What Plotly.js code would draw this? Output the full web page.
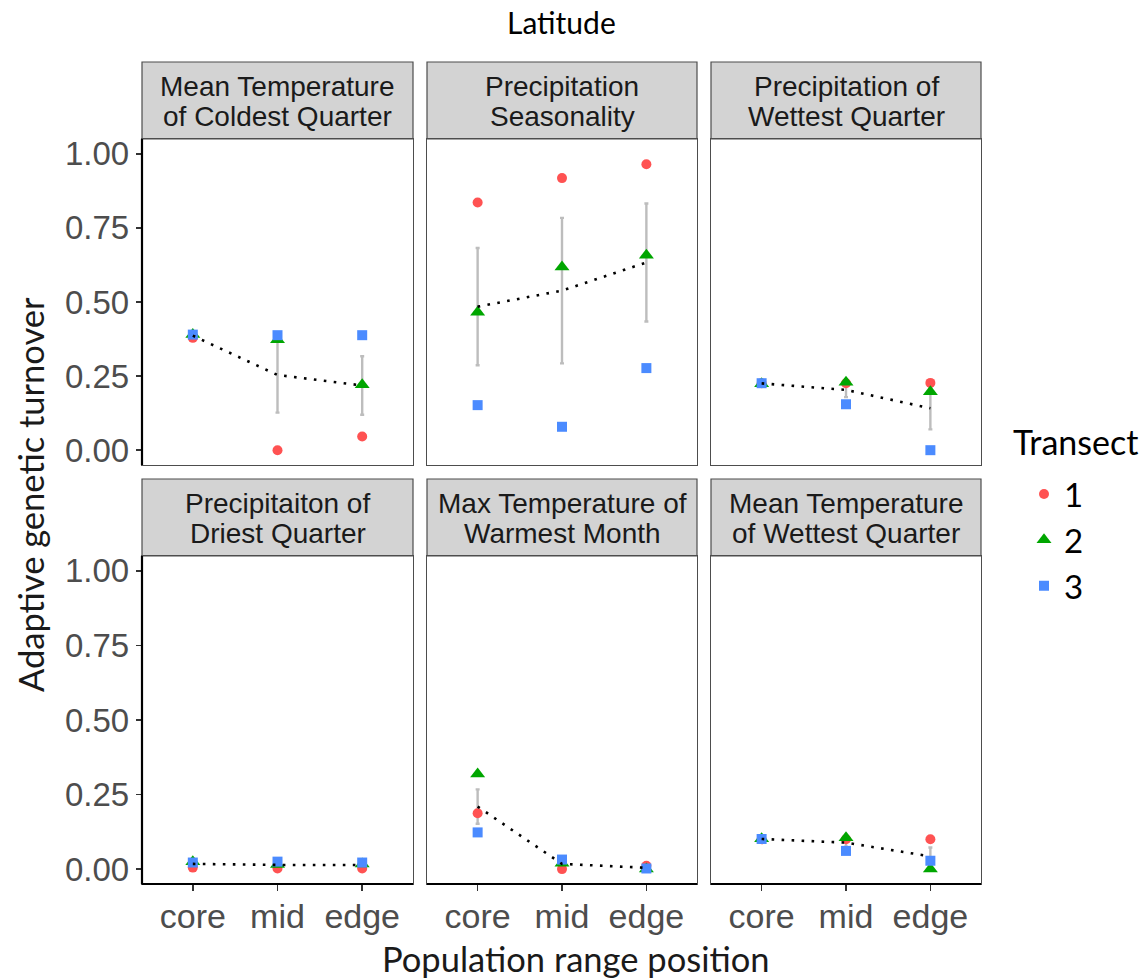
<!DOCTYPE html>
<html>
<head>
<meta charset="utf-8">
<script src="https://cdn.plot.ly/plotly-3.0.1.min.js"></script>
<style>
  html, body { margin: 0; padding: 0; background: #fff; }
  #chart { width: 1147px; height: 979px; }
</style>
</head>
<body>
<div id="chart"></div>
<script>
// Range positions on the x axis of every facet
const positions = ['core', 'mid', 'edge'];

// Facet labels, two lines each, in facet order (row by row)
const facetLines = [
  ['Mean Temperature', 'of Coldest Quarter'],
  ['Precipitation', 'Seasonality'],
  ['Precipitation of', 'Wettest Quarter'],
  ['Precipitaiton of', 'Driest Quarter'],
  ['Max Temperature of', 'Warmest Month'],
  ['Mean Temperature', 'of Wettest Quarter']
];

// Adaptive genetic turnover per transect: one row per facet, values for core / mid / edge
const transect1 = [
  [0.379, 0.000, 0.046],
  [0.836, 0.918, 0.965],
  [0.226, 0.226, 0.227],
  [0.005, 0.002, 0.002],
  [0.187, 0.000, 0.011],
  [0.100, 0.100, 0.100]
];
const transect2 = [
  [0.390, 0.373, 0.221],
  [0.465, 0.618, 0.658],
  [0.224, 0.229, 0.197],
  [0.025, 0.015, 0.017],
  [0.319, 0.020, 0.000],
  [0.102, 0.105, 0.000]
];
const transect3 = [
  [0.390, 0.388, 0.388],
  [0.152, 0.079, 0.277],
  [0.226, 0.155, 0.000],
  [0.022, 0.025, 0.022],
  [0.123, 0.032, 0.002],
  [0.101, 0.061, 0.028]
];

const transectNames = ['1', '2', '3'];
const yTickVals = [0, 0.25, 0.5, 0.75, 1];
const yTickText = ['0.00', '0.25', '0.50', '0.75', '1.00'];

// ---- styling ----
const W = 1147, H = 979;
const colors = ['#FF5252', '#00A600', '#4B8BFF'];
const symbols = ['circle', 'triangle-up', 'square'];
const sizes = [10, 13, 10];
const sansFont = 'Liberation Sans, Arial, sans-serif';
const titleFont = 'Lato, Open Sans, sans-serif';

// panel boxes in pixels: [left, right] per column, [top, bottom] per row
const colPx = [[142, 413], [427, 697], [711, 981]];
const rowPx = [[139, 465], [556, 884]];
const stripPx = [[62, 139], [479, 556]];
const px = x => x / W;
const py = y => 1 - y / H;

function mean(a) { return a.reduce((s, v) => s + v, 0) / a.length; }
function se(a) {
  const m = mean(a);
  const v = a.reduce((s, x) => s + (x - m) * (x - m), 0) / (a.length - 1);
  return Math.sqrt(v) / Math.sqrt(a.length);
}

const data = [];
const layout = {
  width: W, height: H,
  margin: {l: 0, r: 0, t: 0, b: 0},
  paper_bgcolor: '#fff', plot_bgcolor: '#fff',
  hovermode: false,
  showlegend: true,
  legend: {
    x: px(1012), y: py(466), xanchor: 'left', yanchor: 'top',
    font: {family: titleFont, size: 33, color: '#000'},
    bgcolor: 'rgba(0,0,0,0)',
    tracegroupgap: 0,
    indentation: 12,
    itemsizing: 'trace'
  },
  shapes: [],
  annotations: []
};

const series = [transect1, transect2, transect3];

for (let p = 0; p < 6; p++) {
  const row = Math.floor(p / 3), col = p % 3;
  const n = p + 1;
  const xa = 'xaxis' + (n === 1 ? '' : n);
  const ya = 'yaxis' + (n === 1 ? '' : n);
  const xref = 'x' + (n === 1 ? '' : n);
  const yref = 'y' + (n === 1 ? '' : n);

  layout[xa] = {
    domain: [px(colPx[col][0]), px(colPx[col][1])],
    anchor: yref,
    type: 'category',
    categoryorder: 'array', categoryarray: positions,
    range: [-0.6, 2.6],
    showgrid: false, zeroline: false,
    showline: true, mirror: true, linecolor: '#4D4D4D', linewidth: 1.2,
    ticks: row === 1 ? 'outside' : '', ticklen: 6, tickwidth: 1.6, tickcolor: '#333',
    showticklabels: row === 1,
    ticklabelstandoff: -4,
    tickfont: {family: sansFont, size: 34, color: '#4D4D4D'},
    fixedrange: true
  };
  layout[ya] = {
    domain: [py(rowPx[row][1]), py(rowPx[row][0])],
    anchor: xref,
    range: [-0.05, 1.05],
    tickvals: yTickVals, ticktext: yTickText,
    showgrid: false, zeroline: false,
    showline: true, mirror: true, linecolor: '#4D4D4D', linewidth: 1.2,
    ticks: col === 0 ? 'outside' : '', ticklen: 5, tickwidth: 1.6, tickcolor: '#333',
    showticklabels: col === 0,
    tickfont: {family: sansFont, size: 33, color: '#4D4D4D'},
    fixedrange: true
  };

  // summary: mean and standard error across transects
  const means = [], errs = [];
  for (let k = 0; k < 3; k++) {
    const vals = series.map(s => s[p][k]);
    means.push(mean(vals));
    errs.push(se(vals));
  }

  // error bars first (underneath points)
  data.push({
    type: 'scatter', mode: 'markers', x: positions, y: means,
    xaxis: xref, yaxis: yref, showlegend: false,
    marker: {size: 2, color: 'rgba(0,0,0,0)'},
    error_y: {type: 'data', array: errs, visible: true, color: '#BDBDBD', thickness: 2.4, width: 2}
  });

  // individual transect points
  for (let t = 0; t < 3; t++) {
    data.push({
      type: 'scatter', mode: 'markers', x: positions, y: series[t][p],
      xaxis: xref, yaxis: yref,
      name: transectNames[t],
      showlegend: p === 0,
      marker: {symbol: symbols[t], size: sizes[t], color: colors[t], line: {width: 0}}
    });
  }

  // dotted line through the means
  data.push({
    type: 'scatter', mode: 'lines', x: positions, y: means,
    xaxis: xref, yaxis: yref, showlegend: false,
    line: {color: '#000', width: 2.6, dash: '2.6px,7.4px'}
  });

  // facet strip
  layout.shapes.push({
    type: 'rect', xref: 'paper', yref: 'paper',
    x0: px(colPx[col][0]), x1: px(colPx[col][1]),
    y0: py(stripPx[row][1]), y1: py(stripPx[row][0]),
    fillcolor: '#D3D3D3', line: {color: '#4D4D4D', width: 1.2}, layer: 'below'
  });
  const cx = px((colPx[col][0] + colPx[col][1]) / 2);
  const top = stripPx[row][0];
  [24, 54].forEach((off, li) => {
    layout.annotations.push({
      xref: 'paper', yref: 'paper', x: cx, y: py(top + off),
      xanchor: 'center', yanchor: 'middle', showarrow: false,
      text: facetLines[p][li],
      font: {family: sansFont, size: 28, color: '#1A1A1A'}
    });
  });
}

// heavier axis lines on the outer left and bottom sides
[0, 1].forEach(row => {
  layout.shapes.push({
    type: 'line', xref: 'paper', yref: 'paper',
    x0: px(colPx[0][0]), x1: px(colPx[0][0]),
    y0: py(rowPx[row][1]), y1: py(rowPx[row][0]),
    line: {color: '#000', width: 2.2}, layer: 'above'
  });
});
colPx.forEach(c => {
  layout.shapes.push({
    type: 'line', xref: 'paper', yref: 'paper',
    x0: px(c[0]), x1: px(c[1]),
    y0: py(rowPx[1][1]), y1: py(rowPx[1][1]),
    line: {color: '#000', width: 2.2}, layer: 'above'
  });
});

// legend heading
layout.annotations.push({
  xref: 'paper', yref: 'paper', x: px(1011), y: py(441),
  xanchor: 'left', yanchor: 'middle', showarrow: false,
  text: 'Transect', font: {family: titleFont, size: 34, color: '#000'}
});

// titles
layout.annotations.push({
  xref: 'paper', yref: 'paper', x: px(561), y: py(22),
  xanchor: 'center', yanchor: 'middle', showarrow: false,
  text: 'Latitude', font: {family: titleFont, size: 30, color: '#000'}
});
layout.annotations.push({
  xref: 'paper', yref: 'paper', x: px(575), y: py(958),
  xanchor: 'center', yanchor: 'middle', showarrow: false,
  text: 'Population range position', font: {family: titleFont, size: 34.5, color: '#1A1A1A'}
});
layout.annotations.push({
  xref: 'paper', yref: 'paper', x: px(30), y: py(495),
  xanchor: 'center', yanchor: 'middle', showarrow: false, textangle: -90,
  text: 'Adaptive genetic turnover', font: {family: titleFont, size: 34.5, color: '#1A1A1A'}
});

Plotly.newPlot('chart', data, layout, {displayModeBar: false, staticPlot: true});
</script>
</body>
</html>
